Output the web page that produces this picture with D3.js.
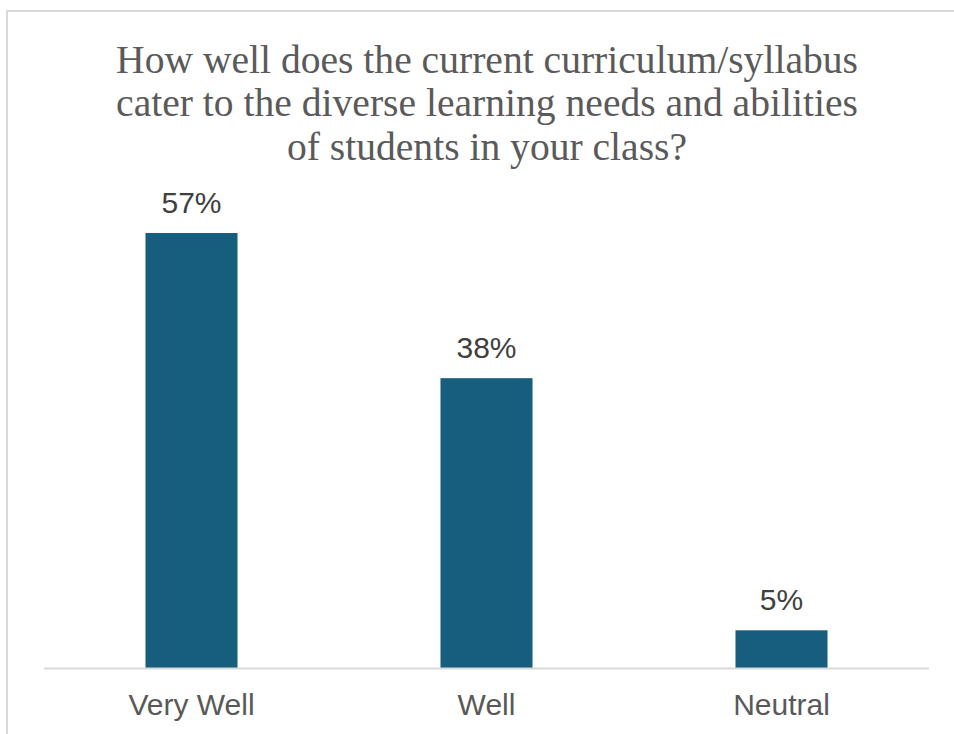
<!DOCTYPE html>
<html>
<head>
<meta charset="utf-8">
<script src="https://cdn.jsdelivr.net/npm/d3@7"></script>
<style>
  html, body { margin: 0; padding: 0; background: #fff; }
  svg { display: block; }
</style>
</head>
<body>
<svg id="chart" width="954" height="734"></svg>
<script>
const categories = ["Very Well", "Well", "Neutral"];
const values = [0.57, 0.38, 0.05];
const valueLabels = ["57%", "38%", "5%"];
const titleLines = [
  "How well does the current curriculum/syllabus",
  "cater to the diverse learning needs and abilities",
  "of students in your class?"
];

const svg = d3.select("#chart");

// chart frame
svg.append("rect")
  .attr("x", 7).attr("y", 11)
  .attr("width", 960).attr("height", 740)
  .attr("fill", "#fff")
  .attr("stroke", "#d9d9d9").attr("stroke-width", 2);

const plot = { left: 44, right: 929, top: 210, bottom: 668.5 };

const x = d3.scaleBand()
  .domain(categories)
  .range([plot.left, plot.right])
  .paddingInner(0.688)
  .paddingOuter(0.344);

const y = d3.scaleLinear()
  .domain([0, 0.6])
  .range([plot.bottom, plot.bottom - 0.6 * 764]);

// title
const title = svg.append("text")
  .attr("text-anchor", "middle")
  .attr("font-family", "'Liberation Serif', 'Times New Roman', serif")
  .attr("font-size", 39.6)
  .attr("fill", "#5a5a5a");
titleLines.forEach((t, i) => {
  title.append("tspan")
    .attr("x", 487)
    .attr("y", 72.5 + i * 43.5)
    .text(t);
});

// bars
svg.append("g").selectAll("rect")
  .data(values)
  .join("rect")
  .attr("x", (d, i) => x(categories[i]))
  .attr("width", x.bandwidth())
  .attr("y", d => y(d))
  .attr("height", d => y(0) - y(d))
  .attr("fill", "#175e7e");

// baseline axis
const axis = d3.axisBottom(x).tickSize(0).tickPadding(0);
const gx = svg.append("g")
  .attr("transform", `translate(0,${plot.bottom})`)
  .call(axis);
gx.select(".domain")
  .attr("stroke", "#d9d9d9")
  .attr("stroke-width", 2)
  .attr("d", `M${plot.left},0H${plot.right}`);
gx.selectAll(".tick text")
  .attr("dy", null)
  .attr("y", 46)
  .attr("font-family", "'Liberation Sans', Arial, sans-serif")
  .attr("font-size", 30)
  .attr("fill", "#595959");

// data labels
svg.append("g").selectAll("text")
  .data(values)
  .join("text")
  .attr("x", (d, i) => x(categories[i]) + x.bandwidth() / 2)
  .attr("y", d => y(d) - 20)
  .attr("text-anchor", "middle")
  .attr("font-family", "'Liberation Sans', Arial, sans-serif")
  .attr("font-size", 30)
  .attr("fill", "#404040")
  .text((d, i) => valueLabels[i]);
</script>
</body>
</html>
